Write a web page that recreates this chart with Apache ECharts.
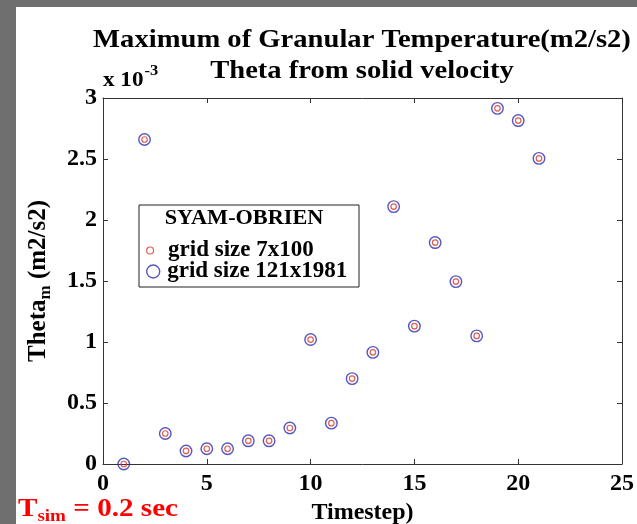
<!DOCTYPE html>
<html>
<head>
<meta charset="utf-8">
<script src="https://cdn.jsdelivr.net/npm/echarts@6/dist/echarts.min.js"></script>
<style>
  html, body { margin: 0; padding: 0; background: #6f6f6f; }
  #chart { width: 637px; height: 524px; }
</style>
</head>
<body>
<div id="chart"></div>
<script>
// Maximum granular temperature per timestep (values in units of 1e-3 m2/s2)
const timesteps = [1, 2, 3, 4, 5, 6, 7, 8, 9, 10, 11, 12, 13, 14, 15, 16, 17, 18, 19, 20, 21];
const thetaGrid7x100 = [0, 2.66, 0.25, 0.107, 0.125, 0.125, 0.19, 0.19, 0.295, 1.02, 0.335, 0.70, 0.915, 2.11, 1.13, 1.815, 1.495, 1.05, 2.915, 2.815, 2.505];
const thetaGrid121x1981 = [0, 2.66, 0.25, 0.107, 0.125, 0.125, 0.19, 0.19, 0.295, 1.02, 0.335, 0.70, 0.915, 2.11, 1.13, 1.815, 1.495, 1.05, 2.915, 2.815, 2.505];
const seriesNames = ['grid size 7x100', 'grid size 121x1981'];
const legendTitle = 'SYAM-OBRIEN';
const titleLines = ['Maximum of Granular Temperature(m2/s2)', 'Theta from solid velocity'];

const FONT = '"Liberation Serif", "Times New Roman", serif';
const RED = '#d8362a';
const BLUE = '#2c2cb4';
const AXIS = '#333333';

const toPairs = (xs, ys) => xs.map((x, i) => [x, ys[i]]);

const chart = echarts.init(document.getElementById('chart'), null, { renderer: 'canvas' });

const baseLabel = { fontFamily: FONT, fontWeight: 'bold', color: '#000', fontSize: 24 };

const tickStyle = { inside: true, length: 5, lineStyle: { color: AXIS, width: 1 } };
const lineStyle = { show: true, onZero: false, lineStyle: { color: AXIS, width: 1 } };
const legendText = { fontFamily: FONT, fontWeight: 'bold', fontSize: 23, color: '#000', lineHeight: 22 };

chart.setOption({
  backgroundColor: '#6f6f6f',
  animation: false,
  graphic: [
    // white figure panel
    { type: 'rect', z: -10, shape: { x: 16, y: 7, width: 621, height: 517 }, style: { fill: '#ffffff' }, silent: true },
    // title
    { type: 'text', x: 362, y: 40, scaleX: 1.1, z: 10, silent: true,
      style: { text: titleLines[0], textAlign: 'center', textVerticalAlign: 'middle', font: 'bold 26px ' + FONT, fill: '#000' } },
    { type: 'text', x: 362, y: 71, scaleX: 1.1, z: 10, silent: true,
      style: { text: titleLines[1], textAlign: 'center', textVerticalAlign: 'middle', font: 'bold 26px ' + FONT, fill: '#000' } },
    // axis exponent
    { type: 'text', x: 103, y: 81, scaleX: 1.1, z: 10, silent: true,
      style: {
        text: '{a|x 10}{p|-3}', textVerticalAlign: 'middle',
        rich: {
          a: { fontFamily: FONT, fontWeight: 'bold', fontSize: 21, fill: '#000', lineHeight: 22 },
          p: { fontFamily: FONT, fontWeight: 'bold', fontSize: 15, fill: '#000', lineHeight: 15, padding: [0, 0, 20, 1] }
        }
      } },
    // legend frame and heading
    { type: 'rect', z: 5, silent: true, shape: { x: 139, y: 205, width: 220, height: 82 },
      style: { fill: '#ffffff', stroke: '#222', lineWidth: 1 } },
    { type: 'text', x: 244, y: 219, scaleX: 1.06, z: 10, silent: true,
      style: { text: legendTitle, textAlign: 'center', textVerticalAlign: 'middle', font: 'bold 21px ' + FONT, fill: '#000' } },
    // simulation time note
    { type: 'text', x: 18, y: 509, scaleX: 1.12, z: 10, silent: true,
      style: {
        text: '{t|T}{s|sim}{t| = 0.2 sec}', textVerticalAlign: 'middle',
        rich: {
          t: { fontFamily: FONT, fontWeight: 'bold', fontSize: 26, fill: '#ff0000', lineHeight: 28 },
          s: { fontFamily: FONT, fontWeight: 'bold', fontSize: 17, fill: '#ff0000', lineHeight: 17, padding: [16, 0, 0, 0] }
        }
      } }
  ],
  legend: [
    {
      data: [{ name: seriesNames[0], icon: 'circle', itemStyle: { color: 'rgba(0,0,0,0)', borderColor: RED, borderWidth: 1.2 } }],
      orient: 'vertical', left: 146, top: 239, itemWidth: 26, itemHeight: 7, padding: 0,
      selectedMode: false, z: 12, textStyle: legendText
    },
    {
      data: [{ name: seriesNames[1], icon: 'circle', itemStyle: { color: 'rgba(0,0,0,0)', borderColor: BLUE, borderWidth: 1.4 } }],
      orient: 'vertical', left: 146, top: 260, itemWidth: 18, itemHeight: 13, padding: 0,
      selectedMode: false, z: 12, textStyle: legendText
    }
  ],
  grid: { left: 103, top: 98, right: 15, bottom: 60, containLabel: false, outerBoundsMode: 'none' },
  xAxis: [
    {
      type: 'value', position: 'bottom', min: 0, max: 25, interval: 5,
      axisLine: lineStyle, axisTick: tickStyle, splitLine: { show: false },
      axisLabel: Object.assign({ margin: 8 }, baseLabel),
      name: 'Timestep)', nameLocation: 'middle', nameGap: 31,
      nameTextStyle: { fontFamily: FONT, fontWeight: 'bold', fontSize: 24, color: '#000' }
    },
    {
      type: 'value', position: 'top', min: 0, max: 25, interval: 5,
      axisLine: lineStyle, axisTick: tickStyle, splitLine: { show: false },
      axisLabel: { show: false }
    }
  ],
  yAxis: [
    {
      type: 'value', position: 'left', min: 0, max: 3, interval: 0.5,
      axisLine: lineStyle, axisTick: tickStyle, splitLine: { show: false },
      axisLabel: Object.assign({ margin: 6 }, baseLabel),
      name: '{b|Theta}{s|m}{b| (m2/s2)}', nameLocation: 'middle', nameGap: 52,
      nameTextStyle: {
        rich: {
          b: { fontFamily: FONT, fontWeight: 'bold', fontSize: 25, color: '#000', lineHeight: 24 },
          s: { fontFamily: FONT, fontWeight: 'bold', fontSize: 17, color: '#000', lineHeight: 16, padding: [14, 0, 0, 0] }
        }
      }
    },
    {
      type: 'value', position: 'right', min: 0, max: 3, interval: 0.5,
      axisLine: lineStyle, axisTick: tickStyle, splitLine: { show: false },
      axisLabel: { show: false }
    }
  ],
  series: [
    {
      name: seriesNames[1], type: 'scatter', xAxisIndex: 0, yAxisIndex: 0,
      data: toPairs(timesteps, thetaGrid121x1981),
      symbol: 'circle', symbolSize: 11.5, z: 2, silent: true,
      itemStyle: { color: 'rgba(0,0,0,0)', borderColor: BLUE, borderWidth: 1.4 }
    },
    {
      name: seriesNames[0], type: 'scatter', xAxisIndex: 0, yAxisIndex: 0,
      data: toPairs(timesteps, thetaGrid7x100),
      symbol: 'circle', symbolSize: 5.5, z: 3, silent: true,
      itemStyle: { color: 'rgba(0,0,0,0)', borderColor: RED, borderWidth: 1.2 }
    }
  ]
});
</script>
</body>
</html>
